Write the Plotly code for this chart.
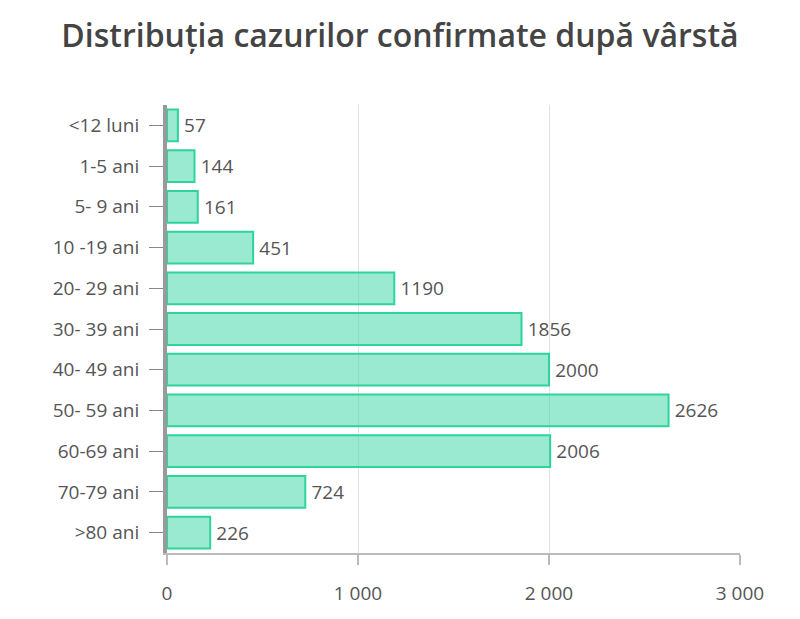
import plotly.graph_objects as go

age_groups = ["<12 luni", "1-5 ani", "5- 9 ani", "10 -19 ani", "20- 29 ani", "30- 39 ani",
              "40- 49 ani", "50- 59 ani", "60-69 ani", "70-79 ani", ">80 ani"]
cases = [57, 144, 161, 451, 1190, 1856, 2000, 2626, 2006, 724, 226]
x_ticks = [0, 1000, 2000, 3000]
x_tick_labels = ["0", "1 000", "2 000", "3 000"]

font_family = "Open Sans, sans-serif"

fig = go.Figure()
fig.add_trace(go.Bar(
    x=cases, y=age_groups, orientation="h",
    marker=dict(color="rgba(52, 214, 162, 0.5)", line=dict(color="#2fd49c", width=2)),
    text=cases, texttemplate="\u2009%{text}", textposition="outside", cliponaxis=False,
    textfont=dict(size=19, color="#555555"),
    hoverinfo="x+y",
))

# the page adds an 8px body margin, so the margins here are shifted by 8px
fig.update_layout(
    width=800, height=619,
    margin=dict(l=159, r=68, t=97, b=74),
    paper_bgcolor="white", plot_bgcolor="white",
    font=dict(family=font_family, color="#555555"),
    title=dict(text="Distribuția cazurilor confirmate după vârstă",
               x=0.49, xanchor="center", y=1 - 28 / 619, yanchor="middle",
               font=dict(size=32, color="#444444", family=font_family, weight=600)),
    bargap=0.22,
    showlegend=False,
    xaxis=dict(range=[0, 3000], tickvals=x_ticks, ticktext=x_tick_labels, automargin=False,
               showgrid=True, gridcolor="#e2e2e2", gridwidth=1,
               showline=True, linecolor="#bbbbbb", linewidth=2,
               ticks="outside", ticklen=10, tickcolor="#bbbbbb", tickwidth=2,
               ticklabelstandoff=12,
               tickfont=dict(size=19, color="#555555"), zeroline=False),
    yaxis=dict(autorange="reversed", automargin=False,
               showline=True, linecolor="#9a9a9a", linewidth=4,
               ticks="outside", ticklen=14, tickcolor="#888888", tickwidth=1,
               ticklabelstandoff=6,
               tickfont=dict(size=19, color="#555555"), showgrid=False),
)

fig.write_html("out.html")
